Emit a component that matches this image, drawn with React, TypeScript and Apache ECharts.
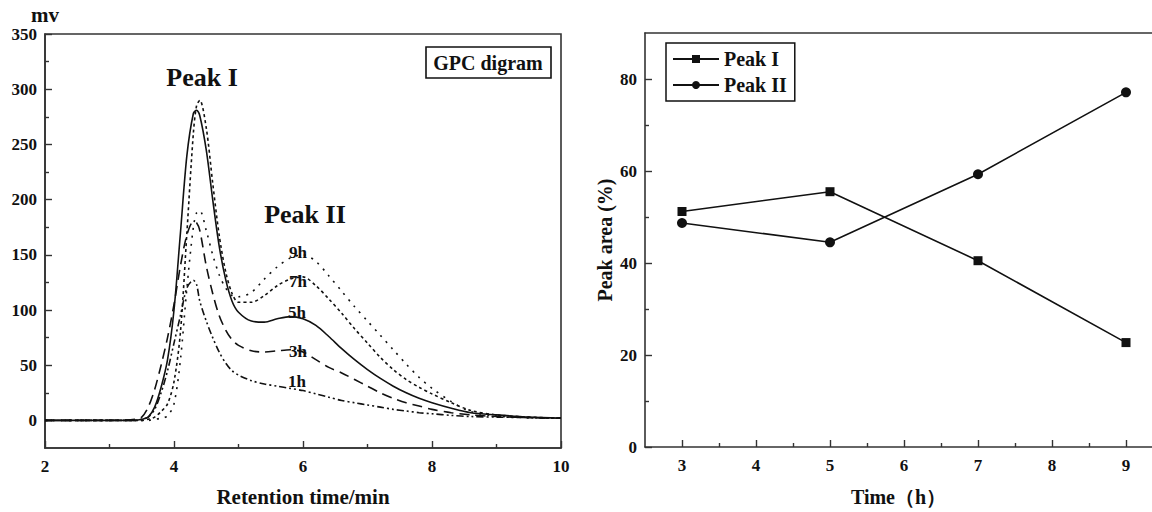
import React, { useEffect, useRef } from "react";
import * as echarts from "echarts";

// Retention time grid (min)
const RET_TIME = [2, 3, 3.4, 3.5, 3.6, 3.7, 3.8, 3.9, 4.0, 4.1, 4.2, 4.3, 4.35, 4.4, 4.5, 4.6, 4.7, 4.8, 4.9, 5.0, 5.2, 5.4, 5.6, 5.8, 6.0, 6.2, 6.4, 6.6, 6.8, 7.0, 7.2, 7.4, 7.6, 7.8, 8.0, 8.3, 8.6, 9.0, 9.5, 10];
// Signal (mV) per hydrolysis time
const MV_1H = [0, 0, 0, 1, 3, 10, 25, 45, 70, 95, 120, 127, 123, 108, 90, 75, 62, 52, 45, 41, 36, 33, 31, 29, 27, 24, 21, 18, 16, 14, 12, 10, 8.5, 7, 6, 4.5, 3.5, 3, 2.5, 2];
const MV_3H = [0, 0, 1, 3, 12, 28, 50, 75, 105, 140, 168, 180, 179, 172, 140, 115, 95, 82, 73, 68, 63, 62, 63, 64, 62, 55, 48, 43, 37, 31, 25, 20, 16, 13, 10, 7, 5, 3.5, 2.5, 2];
const MV_5H = [0, 0, 0, 1, 3, 12, 30, 55, 100, 170, 240, 278, 281, 276, 245, 200, 158, 128, 108, 98, 90, 89, 92, 94, 92, 86, 76, 65, 55, 46, 38, 31, 25, 20, 16, 11, 7, 5, 3, 2];
const MV_7H = [0, 0, 0, 0, 1, 3, 8, 15, 35, 80, 170, 260, 285, 290, 265, 215, 168, 135, 115, 107, 107, 113, 122, 128, 130, 122, 110, 97, 83, 70, 57, 46, 37, 30, 24, 16, 9, 5, 3, 2];
const MV_9H = [0, 0, 0, 0, 0, 1, 2, 4, 15, 55, 120, 175, 188, 190, 172, 150, 132, 120, 113, 112, 116, 128, 139, 147, 150, 144, 131, 117, 103, 90, 77, 64, 51, 39, 29, 17, 8, 4, 2.5, 2];
const CURVE_NAMES = ["1h", "3h", "5h", "7h", "9h"];

// Right chart
const TIME_H = [3, 5, 7, 9];
const PEAK_I_AREA = [51.2, 55.5, 40.5, 22.7];
const PEAK_II_AREA = [48.7, 44.5, 59.3, 77.1];

// Tick labels
const LEFT_X_LABELS = [2, 4, 6, 8, 10];
const LEFT_X_MINOR = [3, 5, 7, 9];
const LEFT_Y_LABELS = [0, 50, 100, 150, 200, 250, 300, 350];
const LEFT_Y_MINOR = [25, 75, 125, 175, 225, 275, 325];
const RIGHT_X_LABELS = [3, 4, 5, 6, 7, 8, 9];
const RIGHT_X_MINOR = [3.5, 4.5, 5.5, 6.5, 7.5, 8.5];
const RIGHT_Y_LABELS = [0, 20, 40, 60, 80];
const RIGHT_Y_MINOR = [10, 30, 50, 70];

const FONT = "'Liberation Serif', 'Times New Roman', serif";
const INK = "#111";
const AXIS = "#333";

function mainAxis(kind: "x" | "y", grid: number, min: number, max: number, labels: number[], name: string, extra: any = {}) {
  return {
    type: "value",
    gridIndex: grid,
    position: kind === "x" ? "bottom" : "left",
    min,
    max,
    name,
    splitLine: { show: false },
    axisLine: { show: true, onZero: false, lineStyle: { color: AXIS, width: 1.6 } },
    axisTick: { show: true, inside: true, length: 7, customValues: labels, lineStyle: { color: AXIS, width: 1.4 } },
    axisLabel: {
      show: true,
      customValues: labels,
      margin: kind === "x" ? 10 : 8,
      color: INK,
      fontFamily: FONT,
      fontWeight: "bold",
      fontSize: 17,
    },
    nameTextStyle: { color: INK, fontFamily: FONT, fontWeight: "bold", fontSize: 21 },
    ...extra,
  };
}

function minorAxis(kind: "x" | "y", grid: number, min: number, max: number, ticks: number[]) {
  return {
    type: "value",
    gridIndex: grid,
    position: kind === "x" ? "bottom" : "left",
    offset: 0,
    min,
    max,
    splitLine: { show: false },
    axisLine: { show: false, onZero: false },
    axisTick: { show: true, inside: true, length: 4, customValues: ticks, lineStyle: { color: AXIS, width: 1.4 } },
    axisLabel: { show: false },
  };
}

function topLine(grid: number, min: number, max: number) {
  return {
    type: "value",
    gridIndex: grid,
    position: "top",
    min,
    max,
    splitLine: { show: false },
    axisLine: { show: true, onZero: false, lineStyle: { color: AXIS, width: 1.6 } },
    axisTick: { show: false },
    axisLabel: { show: false },
  };
}

export default function App() {
  const ref = useRef<HTMLDivElement>(null);

  useEffect(() => {
    if (!ref.current) return;
    const chart = echarts.init(ref.current, undefined, { renderer: "svg" });

    const curves = [
      { data: MV_1H, type: [7, 3, 2, 3, 2, 3] },
      { data: MV_3H, type: [10, 6] },
      { data: MV_5H, type: "solid" },
      { data: MV_7H, type: [3, 3] },
      { data: MV_9H, type: [2, 6] },
    ];

    const leftSeries = curves.map((c, i) => ({
      name: CURVE_NAMES[i],
      type: "line",
      xAxisIndex: 0,
      yAxisIndex: 0,
      showSymbol: false,
      symbol: "none",
      smooth: 0.3,
      data: RET_TIME.map((t, k) => [t, c.data[k]]),
      lineStyle: { color: INK, width: 1.6, type: c.type as any },
      z: 3,
    }));

    const textStyle = (size: number) => ({
      fill: INK,
      font: `bold ${size}px ${FONT}`,
      textAlign: "center",
      textVerticalAlign: "middle",
    });

    const curveLabels = [
      { t: "9h", x: 298, y: 252 },
      { t: "7h", x: 298, y: 281 },
      { t: "5h", x: 297, y: 312 },
      { t: "3h", x: 298, y: 351 },
      { t: "1h", x: 297, y: 381 },
    ];

    const RIGHT_MAX = 2.5 + (1152 - 645) / 74;

    chart.setOption({
      animation: false,
      backgroundColor: "#fff",
      grid: [
        { left: 45, top: 34, width: 516, height: 416, show: true, borderColor: AXIS, borderWidth: 1.6, backgroundColor: "transparent" },
        { left: 645, top: 33, right: 0, height: 418, show: false },
      ],
      xAxis: [
        mainAxis("x", 0, 2, 10, LEFT_X_LABELS, "Retention time/min", { nameLocation: "middle", nameGap: 38 }),
        minorAxis("x", 0, 2, 10, LEFT_X_MINOR),
        mainAxis("x", 1, 2.5, RIGHT_MAX, RIGHT_X_LABELS, "Time（h）", { nameLocation: "middle", nameGap: 40, nameTextStyle: { color: INK, fontFamily: FONT, fontWeight: "bold", fontSize: 20 } }),
        minorAxis("x", 1, 2.5, RIGHT_MAX, RIGHT_X_MINOR),
        topLine(1, 2.5, RIGHT_MAX),
      ],
      yAxis: [
        mainAxis("y", 0, -25, 350, LEFT_Y_LABELS, "mv", { nameLocation: "end", nameGap: 8 }),
        minorAxis("y", 0, -25, 350, LEFT_Y_MINOR),
        mainAxis("y", 1, 0, 90, RIGHT_Y_LABELS, "Peak area (%)", { nameLocation: "middle", nameGap: 30, nameTextStyle: { color: INK, fontFamily: FONT, fontWeight: "bold", fontSize: 20 } }),
        minorAxis("y", 1, 0, 90, RIGHT_Y_MINOR),
      ],
      legend: {
        data: ["Peak I", "Peak II"],
        orient: "vertical",
        left: 666,
        top: 43,
        padding: [6, 8, 6, 6],
        borderColor: INK,
        borderWidth: 1.5,
        itemWidth: 46,
        itemHeight: 10,
        itemGap: 6,
        textStyle: { color: INK, fontFamily: FONT, fontWeight: "bold", fontSize: 20, lineHeight: 20 },
      },
      series: [
        ...leftSeries,
        {
          name: "Peak I",
          type: "line",
          xAxisIndex: 2,
          yAxisIndex: 2,
          symbol: "rect",
          symbolSize: 9,
          data: TIME_H.map((t, i) => [t, PEAK_I_AREA[i]]),
          lineStyle: { color: INK, width: 1.6 },
          itemStyle: { color: INK },
        },
        {
          name: "Peak II",
          type: "line",
          xAxisIndex: 2,
          yAxisIndex: 2,
          symbol: "circle",
          symbolSize: 10,
          data: TIME_H.map((t, i) => [t, PEAK_II_AREA[i]]),
          lineStyle: { color: INK, width: 1.6 },
          itemStyle: { color: INK },
        },
      ],
      graphic: [
        { type: "text", x: 202, y: 77, style: { text: "Peak I", ...textStyle(26) } },
        { type: "text", x: 305, y: 214, style: { text: "Peak II", ...textStyle(26) } },
        { type: "rect", shape: { x: 426, y: 47, width: 125, height: 31 }, style: { fill: "#fff", stroke: INK, lineWidth: 1.6 } },
        { type: "text", x: 488, y: 63, style: { text: "GPC digram", ...textStyle(20) } },
        ...curveLabels.map((l) => ({ type: "text", x: l.x, y: l.y, style: { text: l.t, ...textStyle(17) } })),
      ],
    });

    return () => chart.dispose();
  }, []);

  return <div ref={ref} style={{ position: "fixed", left: 0, top: 0, width: 1152, height: 512 }} />;
}
